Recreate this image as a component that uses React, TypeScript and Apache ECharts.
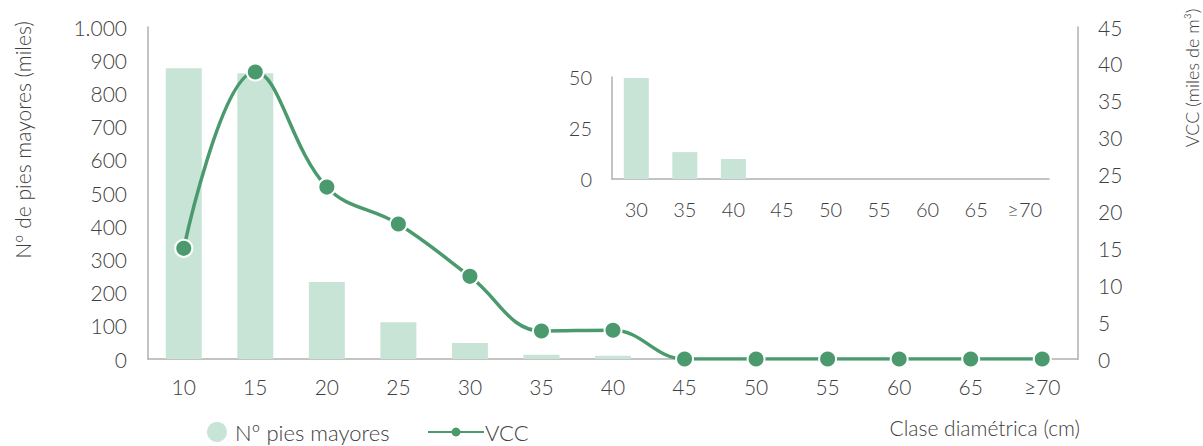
import React, { useEffect, useRef } from "react";
import * as echarts from "echarts";

const categories = ["10", "15", "20", "25", "30", "35", "40", "45", "50", "55", "60", "65", "≥70"];
const piesMayores = [876, 861, 232, 111, 48, 13, 10, 0, 0, 0, 0, 0, 0];
const vcc = [15.0, 38.9, 23.3, 18.3, 11.2, 3.8, 3.9, 0, 0, 0, 0, 0, 0];
const insetCategories = ["30", "35", "40", "45", "50", "55", "60", "65", "≥70"];
const insetValues = [49.5, 13.2, 9.8, 0, 0, 0, 0, 0, 0];

const BAR = "#c8e4d7";
const LINE = "#4a9a6e";
const TXT = "#404040";
const AX = "#b0b0b0";
const FONT = "Lato, 'Open Sans', sans-serif";
const FS = 21;
const FW = 300;

export default function App() {
  const ref = useRef<HTMLDivElement>(null);
  useEffect(() => {
    const chart = echarts.init(ref.current!, null, { renderer: "svg" });
    const lbl = (size: number, margin: number) => ({
      fontSize: size,
      color: TXT,
      margin,
      fontFamily: FONT,
      fontWeight: FW,
    });
    const legendText = (pad: number[]) => ({
      fontSize: 22,
      lineHeight: 20,
      color: TXT,
      fontFamily: FONT,
      fontWeight: FW,
      padding: pad,
    });
    chart.setOption({
      animation: false,
      textStyle: { fontFamily: FONT, color: TXT, fontWeight: FW },
      grid: [
        { left: 148, right: 125, top: 27, bottom: 87, outerBoundsMode: "none", containLabel: false },
        { left: 612, right: 154, top: 77, bottom: 267, outerBoundsMode: "none", containLabel: false },
      ],
      legend: [
        {
          left: 207,
          top: 421,
          itemWidth: 20,
          itemHeight: 20,
          itemGap: 10,
          padding: 0,
          textStyle: legendText([0, 0, 0, 3]),
          data: [{ name: "Nº pies mayores", icon: "circle" }],
        },
        {
          left: 427,
          top: 421,
          itemWidth: 56,
          itemHeight: 11,
          itemGap: 10,
          padding: 0,
          textStyle: legendText([0, 0, 0, -4]),
          data: [{ name: "VCC", itemStyle: { borderWidth: 0 } }],
        },
      ],
      graphic: [
        {
          type: "text",
          x: 22,
          y: 140,
          rotation: Math.PI / 2,
          style: {
            text: "Nº de pies mayores (miles)",
            fontSize: FS,
            fontFamily: FONT,
            fontWeight: FW,
            fill: TXT,
            align: "center",
            verticalAlign: "middle",
          },
        },
        {
          type: "text",
          x: 1192,
          y: 78,
          rotation: Math.PI / 2,
          style: {
            text: "VCC (miles de m³)",
            fontSize: 18,
            fontFamily: FONT,
            fontWeight: FW,
            fill: TXT,
            align: "center",
            verticalAlign: "middle",
          },
        },
        {
          type: "text",
          x: 1080,
          y: 427,
          style: {
            text: "Clase diamétrica (cm)",
            fontSize: FS,
            fontFamily: FONT,
            fontWeight: FW,
            fill: TXT,
            align: "right",
            verticalAlign: "middle",
          },
        },
      ],
      xAxis: [
        {
          type: "category",
          data: categories,
          gridIndex: 0,
          axisLine: { lineStyle: { color: AX, width: 1.5 } },
          axisTick: { show: false },
          axisLabel: lbl(FS, 17),
        },
        {
          type: "category",
          data: insetCategories,
          gridIndex: 1,
          axisLine: { lineStyle: { color: AX, width: 1.5 } },
          axisTick: { show: false },
          axisLabel: lbl(FS - 1, 20),
        },
      ],
      yAxis: [
        {
          type: "value",
          gridIndex: 0,
          min: 0,
          max: 1000,
          interval: 100,
          splitLine: { show: false },
          axisLine: { show: true, lineStyle: { color: AX, width: 1.5 } },
          axisTick: { show: false },
          axisLabel: {
            ...lbl(FS, 21),
            formatter: (v: number) => (v >= 1000 ? "1.000" : String(v)),
          },
        },
        {
          type: "value",
          gridIndex: 0,
          position: "right",
          min: 0,
          max: 45,
          interval: 5,
          splitLine: { show: false },
          axisLine: { show: true, lineStyle: { color: AX, width: 1.5 } },
          axisTick: { show: false },
          axisLabel: lbl(FS, 20),
        },
        {
          type: "value",
          gridIndex: 1,
          min: 0,
          max: 50,
          interval: 25,
          splitLine: { show: false },
          axisLine: { show: true, lineStyle: { color: AX, width: 1.5 } },
          axisTick: { show: false },
          axisLabel: lbl(FS - 1, 20),
        },
      ],
      series: [
        {
          name: "Nº pies mayores",
          type: "bar",
          xAxisIndex: 0,
          yAxisIndex: 0,
          data: piesMayores,
          barWidth: 36,
          itemStyle: { color: BAR },
        },
        {
          name: "VCC",
          type: "line",
          xAxisIndex: 0,
          yAxisIndex: 1,
          data: vcc,
          smooth: 0.4,
          symbol: "circle",
          symbolSize: 17,
          lineStyle: { color: LINE, width: 3.5 },
          itemStyle: { color: LINE, borderColor: "#ffffff", borderWidth: 2 },
          z: 5,
        },
        {
          name: "inset",
          type: "bar",
          xAxisIndex: 1,
          yAxisIndex: 2,
          data: insetValues,
          barWidth: 25,
          itemStyle: { color: BAR },
        },
      ],
    });
    return () => chart.dispose();
  }, []);
  return (
    <div
      ref={ref}
      style={{ position: "fixed", left: 0, top: 0, width: 1203, height: 446, background: "#fff" }}
    />
  );
}
